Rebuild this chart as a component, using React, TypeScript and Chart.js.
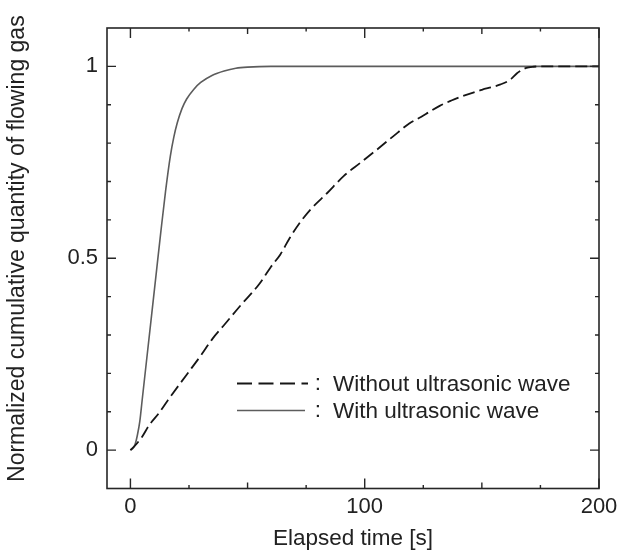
import { useEffect, useRef } from "react";
import { Chart, registerables } from "chart.js";

Chart.register(...registerables);

// Cumulative gas flow, normalized, without ultrasonic excitation
const withoutTime = [0, 2, 5, 8, 12, 16, 21, 26, 30, 35, 40, 47, 55, 60, 64, 68, 72, 77, 84, 91, 98, 105, 112, 119, 124, 128, 132, 137, 141, 146, 150, 155, 158, 161, 163, 165, 167, 169, 172, 175, 200];
const withoutValue = [0, 0.012, 0.035, 0.065, 0.095, 0.13, 0.172, 0.213, 0.246, 0.29, 0.326, 0.377, 0.433, 0.478, 0.51, 0.553, 0.59, 0.628, 0.67, 0.714, 0.748, 0.782, 0.817, 0.851, 0.868, 0.883, 0.897, 0.911, 0.921, 0.931, 0.939, 0.947, 0.953, 0.961, 0.97, 0.982, 0.99, 0.996, 0.999, 1, 1];

// Cumulative gas flow, normalized, with ultrasonic excitation
const withTime = [0, 1, 2, 3, 4, 5, 7, 9, 11, 13, 15, 17, 18.5, 20, 22, 24, 27, 30, 35, 40, 45, 50, 60, 200];
const withValue = [0, 0.004, 0.015, 0.04, 0.075, 0.13, 0.24, 0.35, 0.46, 0.57, 0.675, 0.765, 0.815, 0.853, 0.89, 0.915, 0.94, 0.958, 0.977, 0.988, 0.995, 0.998, 1, 1];

const seriesLabels = ["Without ultrasonic wave", "With ultrasonic wave"];
const xTickValues = [0, 100, 200];
const yTickValues = [0, 0.5, 1];
const xMinorStep = 25;
const yMinorStep = 0.1;
const xTitle = "Elapsed time [s]";
// leading spaces nudge the rotated title slightly upward along the axis
const yTitle = "   Normalized cumulative quantity of flowing gas";

const FONT = '"Liberation Sans", Arial, Helvetica, sans-serif';
const INK = "#222222";

// Boxed frame with inward tick marks on all four sides
const frameTicks = {
  id: "frameTicks",
  afterDraw(chart: any) {
    const { ctx, chartArea: a, scales } = chart;
    const xs = scales.x;
    const ys = scales.y;
    ctx.save();
    ctx.strokeStyle = "#262626";
    ctx.lineWidth = 1.6;
    ctx.strokeRect(a.left, a.top, a.right - a.left, a.bottom - a.top);
    ctx.lineWidth = 1.4;
    ctx.beginPath();
    const xMax = xTickValues[xTickValues.length - 1];
    for (let i = 0; i * xMinorStep <= xMax; i++) {
      const v = i * xMinorStep;
      const px = xs.getPixelForValue(v);
      const len = v % 100 === 0 ? 10 : v % 50 === 0 ? 6 : 3.5;
      ctx.moveTo(px, a.bottom);
      ctx.lineTo(px, a.bottom - len);
      ctx.moveTo(px, a.top);
      ctx.lineTo(px, a.top + len);
    }
    for (let i = 0; i <= 10; i++) {
      const v = i * yMinorStep;
      const py = ys.getPixelForValue(v);
      const len = i % 5 === 0 ? 9 : 4;
      ctx.moveTo(a.left, py);
      ctx.lineTo(a.left + len, py);
      ctx.moveTo(a.right, py);
      ctx.lineTo(a.right - len, py);
    }
    ctx.stroke();
    ctx.restore();
  },
};

// Legend drawn inside the plot: sample line, colon, label
const insideLegend = {
  id: "insideLegend",
  afterDraw(chart: any) {
    const { ctx, chartArea: a } = chart;
    const rows = [
      { y: a.bottom - 105, x1: a.left + 201 },
      { y: a.bottom - 78, x1: a.left + 198 },
    ];
    ctx.save();
    chart.data.datasets.forEach((ds: any, i: number) => {
      const r = rows[i];
      ctx.beginPath();
      ctx.strokeStyle = ds.borderColor;
      ctx.lineWidth = ds.borderWidth;
      ctx.setLineDash(ds.borderDash ? [15, 6.5] : []);
      ctx.moveTo(a.left + 130, r.y);
      ctx.lineTo(r.x1, r.y);
      ctx.stroke();
      ctx.setLineDash([]);
      ctx.fillStyle = INK;
      ctx.font = `22.5px ${FONT}`;
      ctx.textBaseline = "middle";
      ctx.textAlign = "center";
      ctx.fillText(":", a.left + 211, r.y);
      ctx.textAlign = "left";
      ctx.fillText(ds.label, a.left + 226, r.y + 1);
    });
    ctx.restore();
  },
};

export default function App() {
  const canvasRef = useRef<HTMLCanvasElement | null>(null);

  useEffect(() => {
    const canvas = canvasRef.current;
    if (!canvas) return;
    const chart = new Chart(canvas, {
      type: "line",
      data: {
        datasets: [
          {
            label: seriesLabels[0],
            data: withoutTime.map((t, i) => ({ x: t, y: withoutValue[i] })),
            borderColor: "#161616",
            borderWidth: 1.8,
            borderDash: [12, 5],
            pointRadius: 0,
            cubicInterpolationMode: "monotone",
            fill: false,
          },
          {
            label: seriesLabels[1],
            data: withTime.map((t, i) => ({ x: t, y: withValue[i] })),
            borderColor: "#5c5c5c",
            borderWidth: 1.6,
            pointRadius: 0,
            cubicInterpolationMode: "monotone",
            fill: false,
          },
        ],
      },
      options: {
        responsive: false,
        animation: false,
        devicePixelRatio: 1,
        layout: { padding: { top: 28, right: 19, left: 0, bottom: 0 } },
        plugins: {
          legend: { display: false },
          tooltip: { enabled: false },
        },
        scales: {
          x: {
            type: "linear",
            min: -10,
            max: 200,
            grid: { display: false, drawTicks: false },
            border: { display: false },
            afterBuildTicks: (s: any) => {
              s.ticks = xTickValues.map((v) => ({ value: v }));
            },
            afterFit: (s: any) => {
              s.height = 64.5;
              s.paddingLeft = 0;
              s.paddingRight = 0;
            },
            ticks: {
              autoSkip: false,
              maxRotation: 0,
              padding: 5,
              color: INK,
              font: { family: FONT, size: 22 },
              callback: (v: any) => String(v),
            },
            title: {
              display: true,
              text: xTitle,
              color: INK,
              padding: { top: 0, bottom: 1 },
              font: { family: FONT, size: 22.5 },
            },
          },
          y: {
            type: "linear",
            min: -0.1,
            max: 1.1,
            grid: { display: false, drawTicks: false },
            border: { display: false },
            afterBuildTicks: (s: any) => {
              s.ticks = yTickValues.map((v) => ({ value: v }));
            },
            afterFit: (s: any) => {
              s.width = 107;
              s.paddingTop = 0;
              s.paddingBottom = 0;
            },
            ticks: {
              autoSkip: false,
              padding: 9,
              color: INK,
              font: { family: FONT, size: 22 },
              callback: (v: any) => String(v),
            },
            title: {
              display: true,
              text: yTitle,
              color: INK,
              padding: { top: 4, bottom: 0 },
              font: { family: FONT, size: 23 },
            },
          },
        },
      },
      plugins: [frameTicks, insideLegend],
    } as any);
    return () => chart.destroy();
  }, []);

  return (
    <div style={{ position: "absolute", left: 0, top: 0, width: 618, height: 553, background: "#fff" }}>
      <canvas ref={canvasRef} width={618} height={553} style={{ display: "block" }} />
    </div>
  );
}
